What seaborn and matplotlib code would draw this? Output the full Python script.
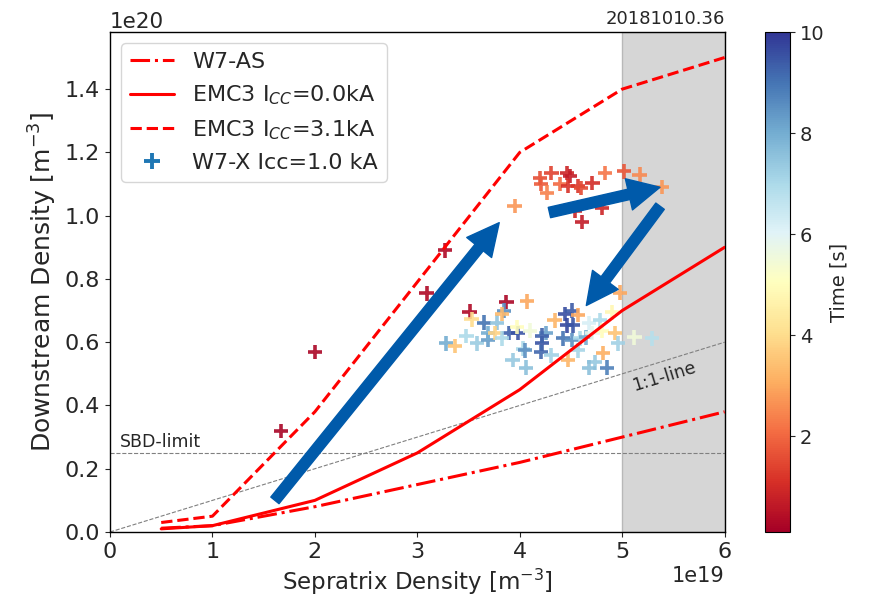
import numpy as np
import pandas as pd
import matplotlib
matplotlib.use("Agg")
import matplotlib.pyplot as plt
import seaborn as sns
from matplotlib.lines import Line2D
from matplotlib.colors import Normalize
from matplotlib.cm import ScalarMappable

# ---------------- data (x in 1e19 m^-3, y in 1e20 m^-3) ----------------
w7as_x = [0.5, 1.0, 2.0, 4.0, 6.0]
w7as_y = [0.012, 0.02, 0.08, 0.22, 0.38]

emc0_x = [0.5, 1.0, 2.0, 3.0, 4.0, 5.0, 6.0]
emc0_y = [0.01, 0.02, 0.10, 0.25, 0.45, 0.70, 0.90]

emc31_x = [0.5, 1.0, 2.0, 4.0, 5.0, 6.0]
emc31_y = [0.03, 0.05, 0.38, 1.20, 1.40, 1.50]

sep_x = [1.67, 2.00, 3.09, 3.27, 3.51, 3.87,
         4.20, 4.31, 4.46, 4.49, 4.21, 4.39, 4.47, 4.57, 4.60, 4.27, 4.71, 4.83,
         5.02, 5.17, 5.39, 4.54, 4.61, 4.80, 3.95,
         4.07, 3.53, 3.65, 3.78, 3.85, 3.83, 3.48, 3.28, 3.37, 3.58, 3.69, 3.69,
         3.76, 3.90, 3.98, 3.97, 4.10, 3.83, 4.03, 4.05, 4.22, 4.21, 4.26, 4.31,
         3.93, 4.06, 4.34, 4.44, 4.51, 4.57, 4.46, 4.52, 4.90, 4.68, 4.78, 4.22,
         4.42, 4.51, 4.59, 4.65, 4.71, 4.80, 4.93, 4.96, 5.12, 5.29, 4.57, 4.47,
         4.81, 4.73, 4.68, 4.85, 4.98]
down_y = [0.32, 0.57, 0.754, 0.89, 0.697, 0.726,
          1.12, 1.136, 1.136, 1.126, 1.10, 1.10, 1.095, 1.095, 1.088, 1.073, 1.104, 1.136,
          1.14, 1.13, 1.09, 1.016, 0.98, 1.025, 1.03,
          0.729, 0.672, 0.662, 0.662, 0.70, 0.69, 0.62, 0.596, 0.587, 0.596, 0.606, 0.63,
          0.628, 0.628, 0.628, 0.647, 0.637, 0.612, 0.58, 0.574, 0.596, 0.568, 0.628, 0.558,
          0.543, 0.52, 0.669, 0.69, 0.70, 0.685, 0.653, 0.653, 0.694, 0.66, 0.669, 0.621,
          0.612, 0.606, 0.612, 0.615, 0.628, 0.637, 0.63, 0.596, 0.615, 0.612, 0.574, 0.543,
          0.565, 0.536, 0.52, 0.52, 0.757]
time_s = [0.2, 0.25, 0.3, 0.3, 0.3, 0.25,
          1.6, 1.4, 0.9, 0.7, 1.8, 2.0, 1.1, 1.2, 1.5, 2.4, 1.0, 2.2,
          1.7, 2.5, 2.7, 0.9, 0.7, 0.9, 2.7,
          3.0, 4.0, 9.0, 7.5, 8.5, 3.3, 7.0, 8.0, 3.5, 7.3, 8.3, 8.0,
          3.8, 9.3, 9.5, 5.0, 5.5, 7.0, 7.0, 8.5, 9.5, 9.2, 8.2, 7.2,
          7.4, 7.6, 3.2, 9.6, 9.4, 3.0, 9.7, 9.5, 4.8, 6.2, 7.0, 9.3,
          9.0, 8.5, 7.0, 8.0, 5.8, 5.0, 3.5, 7.2, 5.5, 6.8, 7.1, 3.2,
          3.1, 7.4, 7.6, 8.8, 3.0]

x_ticks = [0, 1, 2, 3, 4, 5, 6]
y_ticks = [0.0, 0.2, 0.4, 0.6, 0.8, 1.0, 1.2, 1.4]
cbar_ticks = [2, 4, 6, 8, 10]

arrow_tails = [(1.61, 0.10), (4.29, 1.01), (5.37, 1.03)]
arrow_heads = [(3.80, 0.978), (5.37, 1.09), (4.65, 0.716)]

# ---------------- plotting ----------------
sns.set_style("ticks")
plt.rcParams['font.family'] = ['DejaVu Sans']
plt.rcParams['font.size'] = 14

fig = plt.figure(figsize=(8.73, 6.08), dpi=100)
ax = fig.add_axes([0.126, 0.125, 0.704, 0.822])
cax = fig.add_axes([0.876, 0.125, 0.029, 0.822])

ax.axvspan(5e19, 6e19, facecolor='#d6d6d6', edgecolor='#b8b8b8', lw=1, zorder=0)

# reference lines
ax.plot([0, 6e19], [0, 0.6e20], ls='--', color='gray', lw=0.8, zorder=1)
ax.axhline(0.25e20, ls='--', color='gray', lw=0.8, zorder=1)

cmap = plt.get_cmap('RdYlBu')
norm = Normalize(vmin=0.1, vmax=10)

df = pd.DataFrame({'x': np.array(sep_x) * 1e19,
                   'y': np.array(down_y) * 1e20,
                   't': time_s})
sns.scatterplot(data=df, x='x', y='y', hue='t', palette='RdYlBu', hue_norm=norm,
                marker='+', s=105, linewidth=2.6, alpha=0.9, legend=False,
                ax=ax, zorder=2)

sns.lineplot(x=np.array(w7as_x) * 1e19, y=np.array(w7as_y) * 1e20, ax=ax,
             color='red', lw=2.2, linestyle='-.', zorder=3)
sns.lineplot(x=np.array(emc0_x) * 1e19, y=np.array(emc0_y) * 1e20, ax=ax,
             color='red', lw=2.2, linestyle='-', zorder=3)
sns.lineplot(x=np.array(emc31_x) * 1e19, y=np.array(emc31_y) * 1e20, ax=ax,
             color='red', lw=2.2, linestyle='--', zorder=3)

for (tx, ty), (hx, hy) in zip(arrow_tails, arrow_heads):
    ax.annotate('', xy=(hx * 1e19, hy * 1e20), xytext=(tx * 1e19, ty * 1e20),
                arrowprops=dict(arrowstyle='simple,head_width=1.0,head_length=1.0,tail_width=0.33',
                                color='#005aaa', mutation_scale=23, shrinkA=0, shrinkB=0),
                zorder=5)

ax.text(0.1e19, 0.27e20, 'SBD-limit', fontsize=12.5)
ax.text(5.08e19, 0.445e20, '1:1-line', fontsize=12.5, rotation=17)

ax.set_xlim(0, 6e19)
ax.set_ylim(0, 1.58e20)
ax.set_xticks(np.array(x_ticks) * 1e19)
ax.set_yticks(np.array(y_ticks) * 1e20)
ax.set_xlabel('Sepratrix Density [m$^{-3}$]', fontsize=16.5)
ax.set_ylabel('Downstream Density [m$^{-3}$]', fontsize=18)
ax.tick_params(labelsize=16)
ax.xaxis.get_offset_text().set_fontsize(15)
ax.yaxis.get_offset_text().set_fontsize(15.5)
ax.set_title('20181010.36', loc='right', fontsize=13)
for s in ax.spines.values():
    s.set_color('black')
    s.set_linewidth(1)

handles = [Line2D([], [], color='red', lw=2.2, ls='-.'),
           Line2D([], [], color='red', lw=2.2, ls='-'),
           Line2D([], [], color='red', lw=2.2, ls='--'),
           Line2D([], [], color='#1f77b4', marker='+', ls='none', ms=11, mew=2.8)]
labels = ['W7-AS', 'EMC3 I$_{CC}$=0.0kA', 'EMC3 I$_{CC}$=3.1kA', 'W7-X Icc=1.0 kA']
ax.legend(handles, labels, loc='upper left', fontsize=16, frameon=True)

sm = ScalarMappable(norm=norm, cmap=cmap)
cb = fig.colorbar(sm, cax=cax, ticks=cbar_ticks)
cb.set_label('Time [s]', fontsize=14)
cb.ax.tick_params(labelsize=14)
cb.outline.set_edgecolor('black')

fig.savefig('out.png', dpi=100)
